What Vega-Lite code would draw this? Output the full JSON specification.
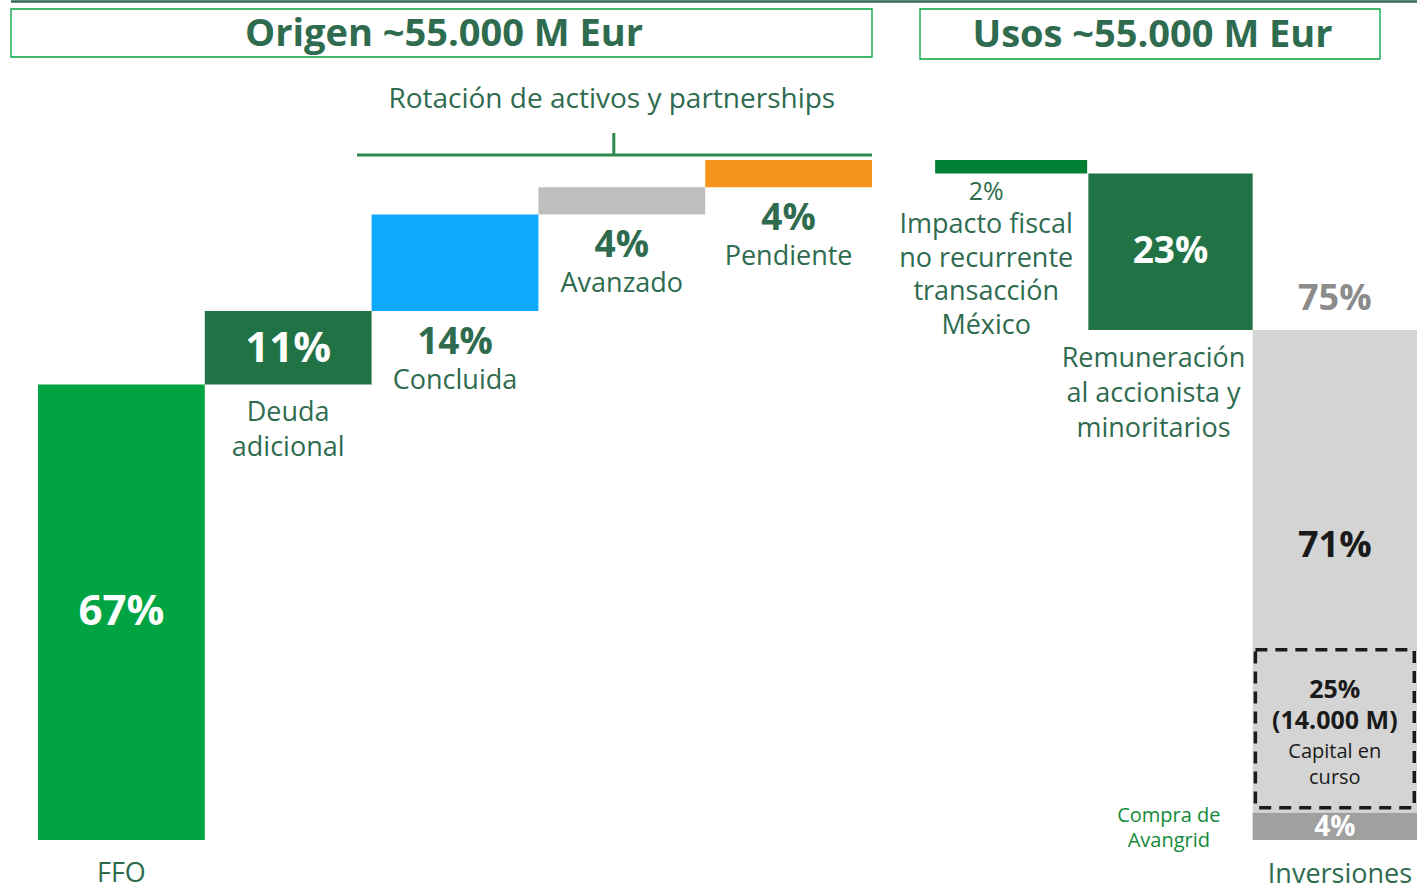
{
  "$schema": "https://vega.github.io/schema/vega-lite/v6.json",
  "padding": {"left": 9, "top": 0, "right": 0, "bottom": 0},
  "bounds": "flush",
  "spacing": 48,
  "config": {"view": {"stroke": null}, "font": "Open Sans"},
  "datasets": {
    "bars": [
      {"col": "FFO", "seg": "FFO", "start": 0, "end": 67, "pct": "67%", "name": "FFO"},
      {"col": "Deuda", "seg": "Deuda", "start": 67, "end": 77.8, "pct": "11%", "name": "Deuda\nadicional"},
      {"col": "Concluida", "seg": "Concluida", "start": 77.8, "end": 92, "pct": "14%", "name": "Concluida"},
      {"col": "Avanzado", "seg": "Avanzado", "start": 92, "end": 96, "pct": "4%", "name": "Avanzado"},
      {"col": "Pendiente", "seg": "Pendiente", "start": 96, "end": 100, "pct": "4%", "name": "Pendiente"},
      {"col": "Impacto", "seg": "Impacto", "start": 100, "end": 98, "pct": "2%", "name": "Impacto fiscal\nno recurrente\ntransacción\nMéxico"},
      {"col": "Remuneracion", "seg": "Remuneracion", "start": 98, "end": 75, "pct": "23%", "name": "Remuneración\nal accionista y\nminoritarios"},
      {"col": "Inversiones", "seg": "Inversiones", "start": 75, "end": 4, "pct": "71%", "name": "Inversiones", "total": "75%"},
      {"col": "Inversiones", "seg": "Avangrid", "start": 4, "end": 0, "pct": "4%", "name": "Compra de\nAvangrid"}
    ],
    "capital": [
      {"col": "Inversiones", "start": 4, "end": 29, "pct": "25%\n(14.000 M)", "name": "Capital en\ncurso"}
    ],
    "deco": [
      {"panel": "Origen", "title": "Origen ~55.000 M Eur", "total_pct": 100, "col": "Concluida", "from": "Concluida", "to": "Pendiente", "mid": "Avanzado", "label": "Rotación de activos y partnerships"},
      {"panel": "Usos", "title": "Usos ~55.000 M Eur", "total_pct": 100, "col": "Remuneracion"}
    ]
  },
  "hconcat": [
    {
      "width": 861,
      "height": 888,
      "layer": [
        {
          "data": {"name": "bars"},
          "transform": [{"filter": {"field": "col", "oneOf": ["FFO", "Deuda", "Concluida", "Avanzado", "Pendiente"]}}],
          "mark": {"type": "bar", "width": {"band": 1}},
          "encoding": {
            "x": {"field": "col", "type": "nominal", "scale": {"domain": ["FFO", "Deuda", "Concluida", "Avanzado", "Pendiente"], "range": [27, 861], "paddingInner": 0, "paddingOuter": 0}, "axis": null},
            "y": {"field": "start", "type": "quantitative", "scale": {"domain": [-7.0588, 123.5294], "nice": false, "zero": false}, "axis": null},
            "y2": {"field": "end"},
            "color": {"field": "seg", "type": "nominal", "legend": null,
              "scale": {"domain": ["FFO", "Deuda", "Concluida", "Avanzado", "Pendiente", "Impacto", "Remuneracion", "Inversiones", "Avangrid"],
                        "range": ["#00A443", "#217346", "#0DA9FF", "#BEBEBE", "#F7941D", "#007F33", "#217346", "#D4D4D4", "#A0A09E"]}}
          }
        },
        {
          "data": {"name": "deco"},
          "transform": [{"filter": {"field": "panel", "equal": "Origen"}}],
          "mark": {"type": "rule", "color": "#2D6A4F", "strokeWidth": 2.5, "yOffset": -158.4, "x2Offset": 48},
          "encoding": {
            "x": {"value": 0},
            "x2": {"value": "width"},
            "y": {"field": "total_pct", "type": "quantitative"}
          }
        },
        {
          "data": {"name": "deco"},
          "transform": [{"filter": {"field": "panel", "equal": "Origen"}}],
          "mark": {"type": "rect", "fill": "white", "stroke": "#00A443", "strokeWidth": 1.3, "yOffset": -151, "y2Offset": -103},
          "encoding": {
            "x": {"value": 0},
            "x2": {"value": "width"},
            "y": {"field": "total_pct", "type": "quantitative"},
            "y2": {"field": "total_pct"}
          }
        },
        {
          "data": {"name": "deco"},
          "transform": [{"filter": {"field": "panel", "equal": "Origen"}}],
          "mark": {"type": "text", "fontSize": 38, "fontWeight": "bold", "color": "#2E6B4F", "baseline": "middle", "align": "center", "dx": -11, "dy": -125},
          "encoding": {
            "x": {"field": "col", "type": "nominal"},
            "y": {"field": "total_pct", "type": "quantitative"},
            "text": {"field": "title", "type": "nominal"}
          }
        },
        {
          "data": {"name": "deco"},
          "transform": [{"filter": {"field": "panel", "equal": "Origen"}}],
          "mark": {"type": "rule", "color": "#2E8B4E", "strokeWidth": 3, "yOffset": -5, "xOffset": -98, "x2Offset": 83.4},
          "encoding": {
            "x": {"field": "from", "type": "nominal"},
            "x2": {"field": "to"},
            "y": {"field": "total_pct", "type": "quantitative"}
          }
        },
        {
          "data": {"name": "deco"},
          "transform": [{"filter": {"field": "panel", "equal": "Origen"}}],
          "mark": {"type": "rule", "color": "#2E8B4E", "strokeWidth": 3, "xOffset": -8, "yOffset": -27, "y2Offset": -5},
          "encoding": {
            "x": {"field": "mid", "type": "nominal"},
            "y": {"field": "total_pct", "type": "quantitative"},
            "y2": {"field": "total_pct"}
          }
        },
        {
          "data": {"name": "deco"},
          "transform": [{"filter": {"field": "panel", "equal": "Origen"}}],
          "mark": {"type": "text", "fontSize": 28, "color": "#2E6B4F", "baseline": "middle", "align": "center", "dx": -10, "dy": -60},
          "encoding": {
            "x": {"field": "mid", "type": "nominal"},
            "y": {"field": "total_pct", "type": "quantitative"},
            "text": {"field": "label", "type": "nominal"}
          }
        },
        {
          "data": {"name": "bars"},
          "transform": [{"filter": {"field": "col", "equal": "FFO"}}],
          "mark": {"type": "text", "fontSize": 42, "fontWeight": "bold", "color": "white", "baseline": "middle", "align": "center", "dy": 228},
          "encoding": {
            "x": {"field": "col", "type": "nominal"},
            "y": {"field": "end", "type": "quantitative"},
            "text": {"field": "pct", "type": "nominal"}
          }
        },
        {
          "data": {"name": "bars"},
          "transform": [{"filter": {"field": "col", "equal": "Deuda"}}],
          "mark": {"type": "text", "fontSize": 42, "fontWeight": "bold", "color": "white", "baseline": "middle", "align": "center", "dy": 38},
          "encoding": {
            "x": {"field": "col", "type": "nominal"},
            "y": {"field": "end", "type": "quantitative"},
            "text": {"field": "pct", "type": "nominal"}
          }
        },
        {
          "data": {"name": "bars"},
          "transform": [{"filter": {"field": "col", "oneOf": ["Concluida", "Avanzado", "Pendiente"]}}],
          "mark": {"type": "text", "fontSize": 37, "fontWeight": "bold", "color": "#2E6B4F", "baseline": "middle", "align": "center", "dy": 32},
          "encoding": {
            "x": {"field": "col", "type": "nominal"},
            "y": {"field": "start", "type": "quantitative"},
            "text": {"field": "pct", "type": "nominal"}
          }
        },
        {
          "data": {"name": "bars"},
          "transform": [{"filter": {"field": "col", "oneOf": ["Concluida", "Avanzado", "Pendiente"]}}],
          "mark": {"type": "text", "fontSize": 27, "color": "#2E6B4F", "baseline": "top", "align": "center", "dy": 57},
          "encoding": {
            "x": {"field": "col", "type": "nominal"},
            "y": {"field": "start", "type": "quantitative"},
            "text": {"field": "name", "type": "nominal"}
          }
        },
        {
          "data": {"name": "bars"},
          "transform": [{"filter": {"field": "col", "equal": "Deuda"}}],
          "mark": {"type": "text", "fontSize": 27, "color": "#2E6B4F", "baseline": "top", "align": "center", "dy": 16, "lineBreak": "\n", "lineHeight": 35},
          "encoding": {
            "x": {"field": "col", "type": "nominal"},
            "y": {"field": "start", "type": "quantitative"},
            "text": {"field": "name", "type": "nominal"}
          }
        },
        {
          "data": {"name": "bars"},
          "transform": [{"filter": {"field": "col", "equal": "FFO"}}],
          "mark": {"type": "text", "fontSize": 27, "color": "#2E6B4F", "baseline": "top", "align": "center", "dy": 21},
          "encoding": {
            "x": {"field": "col", "type": "nominal"},
            "y": {"field": "start", "type": "quantitative"},
            "text": {"field": "name", "type": "nominal"}
          }
        }
      ]
    },
    {
      "width": 497,
      "height": 888,
      "layer": [
        {
          "data": {"name": "bars"},
          "transform": [{"filter": {"field": "col", "oneOf": ["Remuneracion", "Inversiones"]}}],
          "mark": {"type": "bar", "width": {"band": 1}, "clip": true},
          "encoding": {
            "x": {"field": "col", "type": "nominal", "scale": {"domain": ["Impacto", "Remuneracion", "Inversiones"], "range": [4, 497], "paddingInner": 0, "paddingOuter": 0}, "axis": null},
            "y": {"field": "start", "type": "quantitative", "scale": {"domain": [-7.0588, 123.5294], "nice": false, "zero": false}, "axis": null},
            "y2": {"field": "end"},
            "color": {"field": "seg", "type": "nominal", "legend": null,
              "scale": {"domain": ["FFO", "Deuda", "Concluida", "Avanzado", "Pendiente", "Impacto", "Remuneracion", "Inversiones", "Avangrid"],
                        "range": ["#00A443", "#217346", "#0DA9FF", "#BEBEBE", "#F7941D", "#007F33", "#217346", "#D4D4D4", "#A0A09E"]}}
          }
        },
        {
          "data": {"name": "bars"},
          "transform": [{"filter": {"field": "col", "equal": "Impacto"}}],
          "mark": {"type": "bar", "width": {"band": 0.925}, "xOffset": 5},
          "encoding": {
            "x": {"field": "col", "type": "nominal"},
            "y": {"field": "start", "type": "quantitative"},
            "y2": {"field": "end"},
            "color": {"field": "seg", "type": "nominal", "legend": null}
          }
        },
        {
          "data": {"name": "deco"},
          "transform": [{"filter": {"field": "panel", "equal": "Usos"}}],
          "mark": {"type": "rule", "color": "#2D6A4F", "strokeWidth": 2.5, "yOffset": -158.4},
          "encoding": {
            "x": {"value": 0},
            "x2": {"value": "width"},
            "y": {"field": "total_pct", "type": "quantitative"}
          }
        },
        {
          "data": {"name": "deco"},
          "transform": [{"filter": {"field": "panel", "equal": "Usos"}}],
          "mark": {"type": "rect", "fill": "white", "stroke": "#00A443", "strokeWidth": 1.3, "yOffset": -151, "y2Offset": -101, "x2Offset": -37},
          "encoding": {
            "x": {"value": 0},
            "x2": {"value": "width"},
            "y": {"field": "total_pct", "type": "quantitative"},
            "y2": {"field": "total_pct"}
          }
        },
        {
          "data": {"name": "deco"},
          "transform": [{"filter": {"field": "panel", "equal": "Usos"}}],
          "mark": {"type": "text", "fontSize": 38, "fontWeight": "bold", "color": "#2E6B4F", "baseline": "middle", "align": "center", "dx": -18, "dy": -124},
          "encoding": {
            "x": {"field": "col", "type": "nominal"},
            "y": {"field": "total_pct", "type": "quantitative"},
            "text": {"field": "title", "type": "nominal"}
          }
        },
        {
          "data": {"name": "capital"},
          "mark": {"type": "bar", "filled": false, "color": "#1A1A1A", "strokeWidth": 3.5, "strokeDash": [12, 8], "width": {"band": 0.967}, "yOffset": 7, "y2Offset": -5},
          "encoding": {
            "x": {"field": "col", "type": "nominal"},
            "y": {"field": "end", "type": "quantitative"},
            "y2": {"field": "start"}
          }
        },
        {
          "data": {"name": "bars"},
          "transform": [{"filter": {"field": "seg", "equal": "Remuneracion"}}],
          "mark": {"type": "text", "fontSize": 37, "fontWeight": "bold", "color": "white", "baseline": "middle", "align": "center", "dy": 78},
          "encoding": {
            "x": {"field": "col", "type": "nominal"},
            "y": {"field": "start", "type": "quantitative"},
            "text": {"field": "pct", "type": "nominal"}
          }
        },
        {
          "data": {"name": "bars"},
          "transform": [{"filter": {"field": "seg", "equal": "Inversiones"}}],
          "mark": {"type": "text", "fontSize": 36, "fontWeight": "bold", "color": "#1A1A1A", "baseline": "middle", "align": "center", "dy": 216},
          "encoding": {
            "x": {"field": "col", "type": "nominal"},
            "y": {"field": "start", "type": "quantitative"},
            "text": {"field": "pct", "type": "nominal"}
          }
        },
        {
          "data": {"name": "bars"},
          "transform": [{"filter": {"field": "seg", "equal": "Avangrid"}}],
          "mark": {"type": "text", "fontSize": 28, "fontWeight": "bold", "color": "white", "baseline": "middle", "align": "center", "dy": 15},
          "encoding": {
            "x": {"field": "col", "type": "nominal"},
            "y": {"field": "start", "type": "quantitative"},
            "text": {"field": "pct", "type": "nominal"}
          }
        },
        {
          "data": {"name": "bars"},
          "transform": [{"filter": {"field": "seg", "equal": "Inversiones"}}],
          "mark": {"type": "text", "fontSize": 36, "fontWeight": "bold", "color": "#8C8C8C", "baseline": "middle", "align": "center", "dy": -31},
          "encoding": {
            "x": {"field": "col", "type": "nominal"},
            "y": {"field": "start", "type": "quantitative"},
            "text": {"field": "total", "type": "nominal"}
          }
        },
        {
          "data": {"name": "bars"},
          "transform": [{"filter": {"field": "seg", "equal": "Impacto"}}],
          "mark": {"type": "text", "fontSize": 25, "color": "#2E6B4F", "baseline": "middle", "align": "center", "dx": -20, "dy": 18},
          "encoding": {
            "x": {"field": "col", "type": "nominal"},
            "y": {"field": "end", "type": "quantitative"},
            "text": {"field": "pct", "type": "nominal"}
          }
        },
        {
          "data": {"name": "bars"},
          "transform": [{"filter": {"field": "seg", "equal": "Impacto"}}],
          "mark": {"type": "text", "fontSize": 27, "color": "#2E6B4F", "baseline": "top", "align": "center", "dx": -20, "dy": 38.5, "lineBreak": "\n", "lineHeight": 33.5},
          "encoding": {
            "x": {"field": "col", "type": "nominal"},
            "y": {"field": "end", "type": "quantitative"},
            "text": {"field": "name", "type": "nominal"}
          }
        },
        {
          "data": {"name": "bars"},
          "transform": [{"filter": {"field": "seg", "equal": "Remuneracion"}}],
          "mark": {"type": "text", "fontSize": 27, "color": "#2E6B4F", "baseline": "top", "align": "center", "dx": -17, "dy": 16, "lineBreak": "\n", "lineHeight": 35},
          "encoding": {
            "x": {"field": "col", "type": "nominal"},
            "y": {"field": "end", "type": "quantitative"},
            "text": {"field": "name", "type": "nominal"}
          }
        },
        {
          "data": {"name": "capital"},
          "mark": {"type": "text", "fontSize": 25, "fontWeight": "bold", "color": "#1A1A1A", "baseline": "top", "align": "center", "dy": 35, "lineBreak": "\n", "lineHeight": 31},
          "encoding": {
            "x": {"field": "col", "type": "nominal"},
            "y": {"field": "end", "type": "quantitative"},
            "text": {"field": "pct", "type": "nominal"}
          }
        },
        {
          "data": {"name": "capital"},
          "mark": {"type": "text", "fontSize": 20, "color": "#1A1A1A", "baseline": "top", "align": "center", "dy": 99, "lineBreak": "\n", "lineHeight": 26},
          "encoding": {
            "x": {"field": "col", "type": "nominal"},
            "y": {"field": "end", "type": "quantitative"},
            "text": {"field": "name", "type": "nominal"}
          }
        },
        {
          "data": {"name": "bars"},
          "transform": [{"filter": {"field": "seg", "equal": "Avangrid"}}],
          "mark": {"type": "text", "fontSize": 20, "color": "#138A3A", "baseline": "top", "align": "center", "dx": -166, "dy": -7, "lineBreak": "\n", "lineHeight": 25},
          "encoding": {
            "x": {"field": "col", "type": "nominal"},
            "y": {"field": "start", "type": "quantitative"},
            "text": {"field": "name", "type": "nominal"}
          }
        },
        {
          "data": {"name": "bars"},
          "transform": [{"filter": {"field": "seg", "equal": "Inversiones"}}],
          "mark": {"type": "text", "fontSize": 27, "color": "#2E6B4F", "baseline": "top", "align": "left", "dx": -67, "dy": 49, "clip": true},
          "encoding": {
            "x": {"field": "col", "type": "nominal"},
            "y": {"field": "end", "type": "quantitative"},
            "text": {"field": "name", "type": "nominal"}
          }
        }
      ]
    }
  ]
}
